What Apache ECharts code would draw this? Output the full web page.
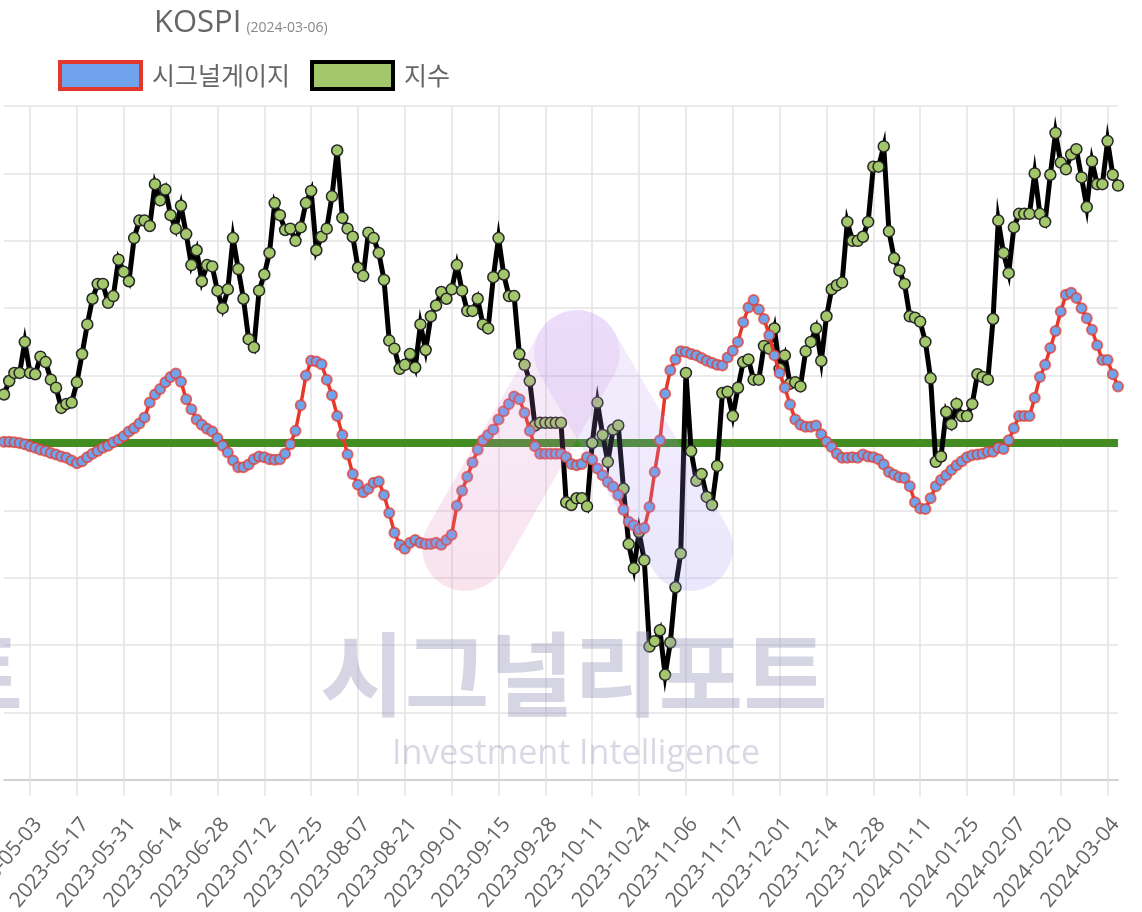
<!DOCTYPE html>
<html lang="ko">
<head>
<meta charset="UTF-8">
<title>KOSPI 시그널게이지</title>
<script src="https://cdn.jsdelivr.net/npm/echarts@6/dist/echarts.min.js"></script>
<style>
    html, body { margin: 0; padding: 0; background: #fff; }
    #chart { width: 1142px; height: 912px; }
</style>
</head>
<body>
<div id="chart"></div>
<script>
// x축에 보이는 날짜 (9 거래일 간격)
var tickLabels = ['2023-05-03', '2023-05-17', '2023-05-31', '2023-06-14', '2023-06-28', '2023-07-12',
    '2023-07-25', '2023-08-07', '2023-08-21', '2023-09-01', '2023-09-15', '2023-09-28',
    '2023-10-11', '2023-10-24', '2023-11-06', '2023-11-17', '2023-12-01', '2023-12-14',
    '2023-12-28', '2024-01-11', '2024-01-25', '2024-02-07', '2024-02-20', '2024-03-04'];
var leadDates = ['2023-04-26', '2023-04-27', '2023-04-28', '2023-05-01', '2023-05-02'];
var tailDates = ['2024-03-05', '2024-03-06'];

// 지수 (KOSPI 종가)
var kospi = [
    2486, 2496, 2502, 2502, 2525,
    2502, 2501, 2514, 2510, 2497, 2491, 2476, 2479, 2480,
    2495, 2516, 2538, 2557, 2568, 2568, 2554, 2559, 2586,
    2577, 2570, 2602, 2615, 2615, 2611, 2642, 2630, 2638,
    2619, 2609, 2626, 2605, 2582, 2593, 2570, 2582, 2581,
    2563, 2550, 2564, 2602, 2579, 2557, 2527, 2521, 2563,
    2575, 2591, 2628, 2619, 2608, 2609, 2600, 2610, 2628,
    2637, 2593, 2603, 2609, 2633, 2667, 2617, 2609, 2603,
    2580, 2574, 2606, 2602, 2591, 2571, 2526, 2520, 2505,
    2508, 2516, 2506, 2538, 2519, 2544, 2552, 2562, 2557,
    2564, 2582, 2563, 2548, 2548, 2557, 2538, 2535, 2573,
    2602, 2575, 2559, 2559, 2516, 2508, 2496, 2463, 2465,
    2465, 2465, 2465, 2465, 2406, 2404, 2409, 2409, 2403,
    2450, 2480, 2456, 2436, 2460, 2463, 2416, 2375, 2357,
    2384, 2363, 2299, 2303, 2311, 2278, 2302, 2343, 2368,
    2502, 2444, 2422, 2427, 2410, 2404, 2433, 2487, 2488,
    2470, 2491, 2510, 2512, 2497, 2497, 2522, 2520, 2535,
    2505, 2515, 2494, 2495, 2492, 2518, 2525, 2535, 2511,
    2544, 2564, 2567, 2569, 2614, 2600, 2600, 2603, 2614,
    2655, 2655, 2670, 2607, 2587, 2578, 2568, 2544, 2543,
    2540, 2525, 2498, 2436, 2440, 2473, 2464, 2479, 2470,
    2470, 2479, 2501, 2499, 2497, 2542, 2615, 2591, 2576,
    2610, 2620, 2620, 2620, 2650, 2620, 2614, 2649, 2680,
    2658, 2653, 2664, 2668, 2647, 2625, 2659, 2642, 2642,
    2674, 2649, 2641
];

// 시그널게이지 (0~100)
var signal = [
    50.2, 50.2, 50.1, 50.0, 49.8,
    49.5, 49.3, 49.0, 48.8, 48.5, 48.3, 48.0, 47.8, 47.4,
    47.0, 47.3, 47.9, 48.4, 48.8, 49.3, 49.6, 50.1, 50.5,
    51.0, 51.7, 52.2, 52.9, 53.8, 56.0, 57.2, 58.0, 59.0,
    59.8, 60.3, 59.1, 56.5, 55.0, 53.5, 52.7, 52.1, 51.7,
    50.7, 49.6, 48.6, 47.4, 46.4, 46.4, 46.8, 47.6, 48.0,
    47.9, 47.6, 47.5, 47.6, 48.4, 49.8, 51.8, 55.6, 60.0,
    62.2, 62.1, 61.7, 59.4, 57.1, 54.0, 51.2, 48.3, 45.4,
    43.8, 42.7, 43.2, 44.1, 44.3, 42.3, 39.6, 36.7, 34.9,
    34.3, 35.2, 35.6, 35.2, 35.0, 35.0, 35.2, 34.9, 35.6,
    36.4, 40.7, 42.9, 45.0, 47.1, 49.0, 50.4, 51.2, 52.0,
    53.5, 54.7, 55.8, 56.9, 56.5, 54.5, 51.8, 49.5, 48.4,
    48.4, 48.4, 48.4, 48.4, 47.9, 46.9, 46.7, 46.9, 47.9,
    47.5, 46.2, 45.2, 44.2, 43.5, 42.3, 40.1, 38.3, 37.8,
    37.2, 37.4, 40.5, 45.7, 50.4, 57.3, 60.8, 62.4, 63.6,
    63.5, 63.2, 63.0, 62.6, 62.2, 61.9, 61.6, 61.5, 62.7,
    63.7, 65.0, 67.9, 70.1, 71.2, 69.8, 68.4, 66.0, 63.0,
    60.4, 58.2, 55.7, 53.5, 52.7, 52.4, 52.4, 52.6, 51.3,
    50.2, 49.4, 48.4, 47.8, 47.8, 47.9, 47.8, 48.3, 48.0,
    47.9, 47.6, 46.8, 45.7, 45.3, 44.9, 44.8, 43.6, 41.2,
    40.3, 40.2, 41.8, 43.6, 44.5, 45.2, 46.0, 46.7, 47.3,
    47.9, 48.2, 48.3, 48.4, 48.7, 48.7, 49.3, 49.1, 50.4,
    52.2, 54.0, 54.0, 54.0, 56.7, 59.8, 61.6, 64.1, 66.6,
    69.5, 72.0, 72.3, 71.5, 70.0, 68.5, 66.8, 64.5, 62.3,
    62.3, 60.2, 58.4
];

var baseline = 50;

// 라벨 사이 8 거래일 채우기
function nextWeekdays(label, n) {
    var d = new Date(label + 'T00:00:00Z');
    var out = [];
    while (out.length < n) {
        d.setUTCDate(d.getUTCDate() + 1);
        var w = d.getUTCDay();
        if (w !== 0 && w !== 6) out.push(d.toISOString().slice(0, 10));
    }
    return out;
}
var dates = leadDates.slice();
tickLabels.forEach(function (t, i) {
    dates.push(t);
    if (i < tickLabels.length - 1) dates = dates.concat(nextWeekdays(t, 8));
});
dates = dates.concat(tailDates);

var tickSet = {};
tickLabels.forEach(function (t) { tickSet[t] = true; });
function isTick(idx, val) { return !!tickSet[val]; }

var gridColor = '#e3e3e3';
var chart = echarts.init(document.getElementById('chart'));

var option = {
    animation: false,
    backgroundColor: '#fff',
    title: {
        text: '{a|KOSPI} {b|(2024-03-06)}',
        left: 149,
        top: 3,
        textStyle: {
            rich: {
                a: { fontSize: 31, color: '#666', fontWeight: 'normal', fontFamily: 'Open Sans', verticalAlign: 'bottom' },
                b: { fontSize: 14, color: '#888', fontWeight: 'normal', fontFamily: 'Open Sans', verticalAlign: 'bottom', padding: [0, 0, 4, 0] }
            }
        }
    },
    legend: {
        left: 53,
        top: 55,
        itemWidth: 81,
        itemHeight: 27,
        itemGap: 20,
        icon: 'rect',
        textStyle: { fontSize: 25, color: '#666', fontFamily: 'Noto Sans CJK KR', padding: [0, 0, 0, 6] },
        data: [
            { name: '시그널게이지', itemStyle: { color: '#6fa4ec', borderColor: '#e2382b', borderWidth: 4 } },
            { name: '지수', itemStyle: { color: '#a3c86c', borderColor: '#000', borderWidth: 4 } }
        ]
    },
    grid: { left: 4, right: 24, top: 106, bottom: 132, outerBoundsMode: 'none' },
    xAxis: {
        type: 'category',
        boundaryGap: false,
        data: dates,
        axisLine: { lineStyle: { color: '#d2d2d2', width: 2 } },
        axisTick: { show: true, interval: isTick, length: 16, lineStyle: { color: gridColor, width: 1.5 } },
        axisLabel: {
            interval: isTick,
            rotate: 50,
            margin: 34,
            align: 'right',
            verticalAlign: 'top',
            fontSize: 21,
            color: '#666',
            fontFamily: 'Open Sans'
        },
        splitLine: { show: true, interval: isTick, lineStyle: { color: gridColor, width: 1.5 } }
    },
    yAxis: [{
        type: 'value',
        min: 0,
        max: 100,
        interval: 10,
        axisLabel: { show: false },
        axisLine: { show: false },
        axisTick: { show: false },
        splitLine: { lineStyle: { color: gridColor, width: 1.5 } }
    }, {
        type: 'value',
        min: 2200,
        max: 2700,
        interval: 50,
        show: false,
        splitLine: { show: false }
    }],
    series: [{
        name: 'baseline',
        type: 'line',
        yAxisIndex: 0,
        data: [[dates[0], baseline], [dates[dates.length - 1], baseline]],
        symbol: 'none',
        silent: true,
        lineStyle: { color: '#428c22', width: 8 },
        z: 1
    }, {
        name: '지수',
        type: 'line',
        yAxisIndex: 1,
        data: kospi,
        symbol: 'circle',
        symbolSize: 11,
        showAllSymbol: true,
        lineStyle: { color: '#000', width: 5, join: 'miter', miterLimit: 10 },
        itemStyle: { color: '#a3c86c', borderColor: '#262626', borderWidth: 1.5 },
        z: 2
    }, {
        name: '시그널게이지',
        type: 'line',
        yAxisIndex: 0,
        data: signal,
        symbol: 'circle',
        symbolSize: 10,
        showAllSymbol: true,
        lineStyle: { color: '#e8382a', width: 3.5 },
        itemStyle: { color: '#6fa4ec', borderColor: 'rgba(228,60,50,0.75)', borderWidth: 2 },
        z: 3
    }],
    // 워터마크
    graphic: [{
        type: 'line',
        z: 100,
        silent: true,
        shape: { x1: 465, y1: 548, x2: 577, y2: 353 },
        style: {
            lineWidth: 86,
            lineCap: 'round',
            stroke: {
                type: 'linear', x: 0, y: 1, x2: 0, y2: 0,
                colorStops: [{ offset: 0, color: 'rgba(225,120,165,0.2)' }, { offset: 1, color: 'rgba(200,140,235,0.17)' }]
            }
        }
    }, {
        type: 'line',
        z: 101,
        silent: true,
        shape: { x1: 577, y1: 353, x2: 690, y2: 548 },
        style: {
            lineWidth: 86,
            lineCap: 'round',
            stroke: {
                type: 'linear', x: 0, y: 0, x2: 0, y2: 1,
                colorStops: [{ offset: 0, color: 'rgba(190,145,240,0.17)' }, { offset: 1, color: 'rgba(150,140,240,0.2)' }]
            }
        }
    }, {
        type: 'text',
        z: 102,
        silent: true,
        x: 320,
        y: 628,
        style: { text: '시그널리포트', font: 'bold 92px "Noto Sans CJK KR"', fill: 'rgba(150,150,185,0.4)' }
    }, {
        type: 'text',
        z: 102,
        silent: true,
        x: -485,
        y: 628,
        style: { text: '시그널리포트', font: 'bold 92px "Noto Sans CJK KR"', fill: 'rgba(150,150,185,0.4)' }
    }, {
        type: 'text',
        z: 102,
        silent: true,
        x: 392,
        y: 737,
        style: { text: 'Investment Intelligence', font: '34px "Open Sans"', fill: 'rgba(150,150,185,0.36)' }
    }]
};

chart.setOption(option);
</script>
</body>
</html>
